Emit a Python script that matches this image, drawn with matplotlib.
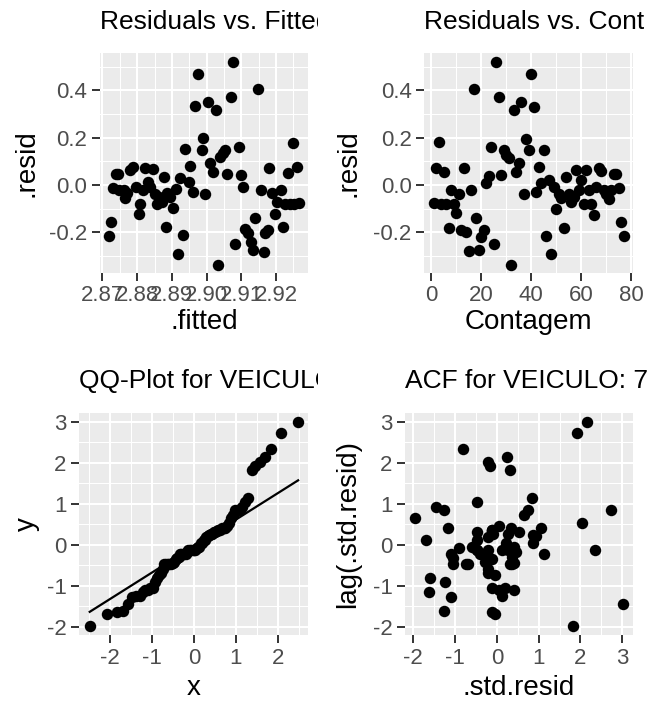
import statistics
import numpy as np
import matplotlib
matplotlib.use("Agg")
import matplotlib.pyplot as plt
from matplotlib.transforms import Bbox, TransformedBbox

plt.rcParams['font.family'] = ['Liberation Sans', 'DejaVu Sans']
plt.rcParams['axes.unicode_minus'] = False

W, H = 653, 702

# residuals in order of Contagem (1..77)
contagem = np.arange(1, 78)
resid = np.array([
    -0.078, 0.070, 0.180, -0.080, 0.054, -0.080, -0.180, -0.020, -0.080, -0.120,
    -0.038, -0.190, 0.070, -0.200, -0.280, -0.020, 0.405, -0.140, -0.276, -0.219,
    -0.190, 0.007, 0.038, 0.160, -0.250, 0.518, 0.370, 0.042, 0.148, 0.127,
    0.113, -0.339, 0.315, 0.056, 0.092, 0.350, -0.038, 0.195, 0.146, 0.470,
    0.330, -0.028, 0.078, 0.007, 0.148, -0.216, 0.021, -0.292, -0.007, -0.103,
    -0.038, -0.056, -0.180, 0.035, -0.038, -0.071, -0.049, 0.064, -0.021, 0.021,
    -0.080, 0.064, -0.021, -0.080, -0.127, -0.007, 0.070, 0.060, -0.021, -0.038,
    -0.060, -0.021, 0.047, 0.047, -0.014, -0.157, -0.215])

# fitted values with their residuals
fitted = np.array([
    2.8719, 2.8725, 2.8730, 2.8739, 2.8746, 2.8749, 2.8761, 2.8765, 2.8770, 2.8778,
    2.8787, 2.8797, 2.8804, 2.8808, 2.8818, 2.8823, 2.8830, 2.8837, 2.8845, 2.8850,
    2.8856, 2.8864, 2.8871, 2.8876, 2.8883, 2.8887, 2.8895, 2.8904, 2.8912, 2.8919,
    2.8924, 2.8933, 2.8938, 2.8948, 2.8952, 2.8962, 2.8968, 2.8974, 2.8986, 2.8991,
    2.8996, 2.9005, 2.9010, 2.9018, 2.9027, 2.9034, 2.9039, 2.9048, 2.9053, 2.9060,
    2.9070, 2.9077, 2.9082, 2.9092, 2.9098, 2.9106, 2.9111, 2.9120, 2.9127, 2.9135,
    2.9140, 2.9149, 2.9156, 2.9164, 2.9168, 2.9178, 2.9180, 2.9188, 2.9197, 2.9202,
    2.9213, 2.9219, 2.9226, 2.9233, 2.9240, 2.9248, 2.9252, 2.9260, 2.9267])
resid_fit = np.array([
    -0.216, -0.155, -0.014, 0.047, 0.047, -0.021, -0.021, -0.056, -0.035, 0.064,
    0.075, -0.007, -0.123, -0.080, -0.021, 0.071, 0.014, -0.007, 0.066, -0.038,
    -0.080, -0.049, -0.071, 0.035, -0.176, -0.035, -0.049, -0.099, -0.018, -0.292,
    0.028, -0.212, 0.151, 0.014, 0.080, -0.028, 0.332, 0.470, 0.148, 0.198,
    -0.038, 0.349, 0.092, 0.056, 0.318, -0.339, 0.120, 0.134, 0.148, 0.047,
    0.374, 0.518, -0.251, 0.162, 0.042, -0.007, -0.184, -0.202, -0.240, -0.275,
    -0.141, 0.405, -0.021, -0.282, -0.202, -0.191, 0.071, -0.035, -0.123, -0.071,
    -0.021, -0.176, -0.080, 0.052, -0.080, 0.179, -0.080, 0.075, -0.075])

std_resid = resid / resid.std(ddof=1)
lag_x = std_resid[1:]
lag_y = std_resid[:-1]

nd = statistics.NormalDist()
n = len(std_resid)
qq_y = np.sort(std_resid)
qq_x = np.array([nd.inv_cdf((i - 0.5) / n) for i in range(1, n + 1)])
q_y = np.quantile(std_resid, [0.25, 0.75])
q_x = np.array([nd.inv_cdf(0.25), nd.inv_cdf(0.75)])
slope = (q_y[1] - q_y[0]) / (q_x[1] - q_x[0])
intercept = q_y[0] - slope * q_x[0]

fit_ticks = [2.87, 2.88, 2.89, 2.90, 2.91, 2.92]
fit_labels = ["2.87", "2.88", "2.89", "2.90", "2.91", "2.92"]
resid_ticks = [-0.2, 0.0, 0.2, 0.4]
resid_labels = ["-0.2", "0.0", "0.2", "0.4"]
cont_ticks = [0, 20, 40, 60, 80]
std_ticks = [-2, -1, 0, 1, 2, 3]
qx_ticks = [-2, -1, 0, 1, 2]

fig = plt.figure(figsize=(W / 100, H / 100), dpi=100)


def px_axes(left, right, top, bottom):
    return fig.add_axes([left / W, 1 - bottom / H, (right - left) / W, (bottom - top) / H])


def style(ax, xlim, ylim, xt, yt, xl, yl, xminor, yminor):
    ax.set_facecolor("#EBEBEB")
    for s in ax.spines.values():
        s.set_visible(False)
    ax.set_xlim(xlim)
    ax.set_ylim(ylim)
    ax.set_xticks(xt, xl)
    ax.set_yticks(yt, yl)
    ax.set_xticks(xminor, minor=True)
    ax.set_yticks(yminor, minor=True)
    ax.grid(which="major", color="white", linewidth=1.5)
    ax.grid(which="minor", color="white", linewidth=0.75)
    ax.set_axisbelow(True)
    ax.tick_params(which="major", length=5.5, width=1.4, color="#333333",
                   labelsize=16, labelcolor="#4D4D4D", pad=3.5)
    ax.tick_params(which="minor", length=0)


def titles(ax, title, clip_right, ty, xlabel, xly, ylabel, ylx):
    bb = ax.get_position()
    t = fig.text(bb.x0, 1 - ty / H, title, ha="left", va="center", fontsize=19,
                 clip_on=True)
    # titles are cut off at the edge of their plot cell
    t.set_clip_box(TransformedBbox(Bbox.from_extents(0, 1 - (ty + 25) / H,
                                                     clip_right / W, 1 - (ty - 25) / H),
                                   fig.transFigure))
    fig.text((bb.x0 + bb.x1) / 2, 1 - xly / H, xlabel, ha="center", va="center", fontsize=20)
    fig.text(ylx / W, (bb.y0 + bb.y1) / 2, ylabel, ha="center", va="center",
             rotation=90, fontsize=20)


msize = 68

# Residuals vs fitted
ax1 = px_axes(100, 308, 53, 273)
ax1.scatter(fitted, resid_fit, s=msize, color="black", linewidths=0, zorder=3)
style(ax1, (2.8693, 2.9292), (-0.372, 0.558), fit_ticks, resid_ticks, fit_labels,
      resid_labels, [2.875, 2.885, 2.895, 2.905, 2.915, 2.925], [-0.3, -0.1, 0.1, 0.3, 0.5])
titles(ax1, "Residuals vs. Fitted", 318, 22, ".fitted", 322, ".resid", 27)

# Residuals vs Contagem
ax2 = px_axes(424, 633, 53, 273)
ax2.scatter(contagem, resid, s=msize, color="black", linewidths=0, zorder=3)
style(ax2, (-2.8, 80.8), (-0.372, 0.558), cont_ticks, resid_ticks,
      [str(v) for v in cont_ticks], resid_labels, [10, 30, 50, 70], [-0.3, -0.1, 0.1, 0.3, 0.5])
titles(ax2, "Residuals vs. Contagem", 645, 22, "Contagem", 322, ".resid", 348)

# QQ plot
ax3 = px_axes(79, 308, 413, 635)
ax3.scatter(qq_x, qq_y, s=msize, color="black", linewidths=0, zorder=3)
xx = np.array([qq_x.min(), qq_x.max()])
ax3.plot(xx, intercept + slope * xx, color="black", linewidth=1.6, zorder=4)
style(ax3, (-2.74, 2.72), (-2.2, 3.22), qx_ticks, std_ticks,
      [str(v) for v in qx_ticks], [str(v) for v in std_ticks],
      [-2.5, -1.5, -0.5, 0.5, 1.5, 2.5], [-1.5, -0.5, 0.5, 1.5, 2.5])
titles(ax3, "QQ-Plot for VEICULO: 77", 318, 381, "x", 688, "y", 27)

# ACF / lag plot
ax4 = px_axes(405, 633, 413, 635)
ax4.scatter(lag_x, lag_y, s=msize, color="black", linewidths=0, zorder=3)
style(ax4, (-2.2, 3.26), (-2.2, 3.22), std_ticks, std_ticks,
      [str(v) for v in std_ticks], [str(v) for v in std_ticks],
      [-1.5, -0.5, 0.5, 1.5, 2.5], [-1.5, -0.5, 0.5, 1.5, 2.5])
titles(ax4, "ACF for VEICULO: 77", 647, 381, ".std.resid", 688, "lag(.std.resid)", 348)

fig.savefig("out.png", dpi=100)
